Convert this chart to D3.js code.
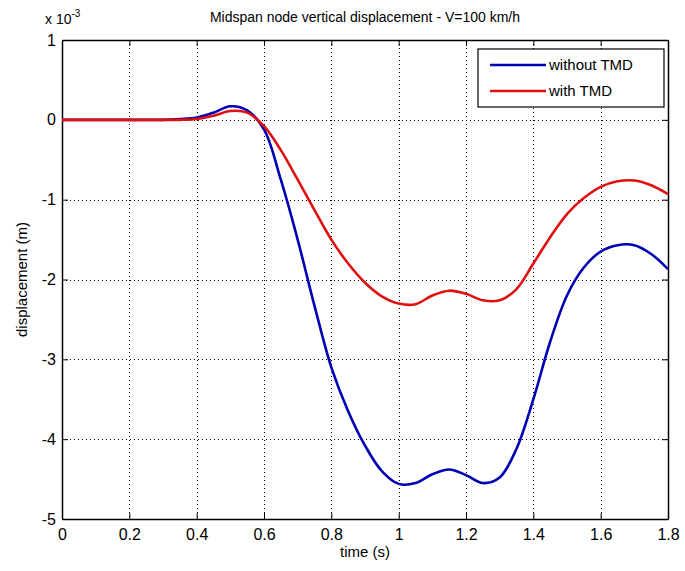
<!DOCTYPE html>
<html lang="en">
<head>
    <meta charset="UTF-8">
    <title>Midspan node vertical displacement</title>
    <script src="https://cdn.jsdelivr.net/npm/d3@7"></script>
    <style>
        body { margin: 0; background: #fff; }
        svg text { font-family: "Liberation Sans", Arial, sans-serif; fill: #000; }
    </style>
</head>
<body>
<div id="chartArea"></div>
<script>
    'use strict';

    // time (s)
    const time = [0, 0.05, 0.1, 0.15, 0.2, 0.25, 0.3, 0.35, 0.4, 0.45, 0.5, 0.55, 0.6, 0.65, 0.7,
        0.75, 0.8, 0.85, 0.9, 0.95, 1.0, 1.05, 1.1, 1.15, 1.2, 1.25, 1.3, 1.35, 1.4, 1.45, 1.5,
        1.55, 1.6, 1.65, 1.7, 1.75, 1.8];
    // displacement, x 10^-3 m
    const withoutTMD = [0, 0, 0, 0, 0, 0, 0, 0.01, 0.03, 0.09, 0.17, 0.12, -0.12, -0.75, -1.5,
        -2.33, -3.1, -3.65, -4.08, -4.4, -4.56, -4.55, -4.44, -4.38, -4.45, -4.55, -4.48, -4.12, -3.5,
        -2.78, -2.2, -1.85, -1.65, -1.57, -1.57, -1.68, -1.87];
    const withTMD = [0, 0, 0, 0, 0, 0, 0, 0, 0.01, 0.05, 0.11, 0.09, -0.08, -0.38, -0.75,
        -1.13, -1.5, -1.8, -2.04, -2.21, -2.3, -2.31, -2.2, -2.14, -2.18, -2.26, -2.26, -2.12, -1.8,
        -1.47, -1.18, -0.98, -0.84, -0.77, -0.76, -0.82, -0.93];
    const xTicks = [0, 0.2, 0.4, 0.6, 0.8, 1, 1.2, 1.4, 1.6, 1.8];
    const yTicks = [1, 0, -1, -2, -3, -4, -5];
    const seriesNames = ['without TMD', 'with TMD'];
    const seriesColors = ['#0000b4', '#e01010'];

    const width = 685, height = 571;
    const margin = { left: 62, right: 17, top: 40, bottom: 52 };
    const plotW = width - margin.left - margin.right;
    const plotH = height - margin.top - margin.bottom;

    const svg = d3.select('#chartArea').append('svg')
        .attr('width', width).attr('height', height);

    const x = d3.scaleLinear().domain([0, 1.8]).range([margin.left, margin.left + plotW]);
    const y = d3.scaleLinear().domain([-5, 1]).range([margin.top + plotH, margin.top]);

    // dotted grid
    const grid = svg.append('g').attr('stroke', '#000').attr('stroke-width', 1)
        .attr('stroke-dasharray', '1,3');
    grid.selectAll('.gx').data(xTicks.slice(1, -1)).enter().append('line')
        .attr('x1', d => Math.round(x(d)) + 0.5).attr('x2', d => Math.round(x(d)) + 0.5)
        .attr('y1', margin.top).attr('y2', margin.top + plotH);
    grid.selectAll('.gy').data(yTicks.slice(1, -1)).enter().append('line')
        .attr('y1', d => Math.round(y(d)) + 0.5).attr('y2', d => Math.round(y(d)) + 0.5)
        .attr('x1', margin.left).attr('x2', margin.left + plotW);

    // axes with inward ticks (matlab style), plain hyphen for negatives
    const fmt = d => String(d);
    const xAxis = d3.axisBottom(x).tickValues(xTicks).tickFormat(fmt).tickSizeInner(-6).tickSizeOuter(0).tickPadding(10);
    const yAxis = d3.axisLeft(y).tickValues(yTicks).tickFormat(fmt).tickSizeInner(-6).tickSizeOuter(0).tickPadding(6);

    const gx = svg.append('g').attr('transform', `translate(0,${margin.top + plotH})`).call(xAxis);
    const gy = svg.append('g').attr('transform', `translate(${margin.left},0)`).call(yAxis);
    svg.append('g').attr('transform', `translate(0,${margin.top})`)
        .call(d3.axisTop(x).tickValues(xTicks).tickFormat('').tickSizeInner(-6).tickSizeOuter(0));
    svg.append('g').attr('transform', `translate(${margin.left + plotW},0)`)
        .call(d3.axisRight(y).tickValues(yTicks).tickFormat('').tickSizeInner(-6).tickSizeOuter(0));
    svg.selectAll('.domain').attr('stroke', '#000').attr('stroke-width', 1.5);
    svg.selectAll('.tick line').attr('stroke', '#000');
    svg.selectAll('.tick text').style('font-size', '16px').style('font-family', '"Liberation Sans", Arial, sans-serif');
    gx.selectAll('.tick text').attr('dy', '0.71em');

    // curves
    const series = [withoutTMD, withTMD];
    const line = d3.line()
        .x((d, i) => x(time[i]))
        .y(d => y(d))
        .curve(d3.curveCatmullRom.alpha(0.5));
    svg.append('g').selectAll('path').data(series).enter().append('path')
        .attr('d', line)
        .attr('fill', 'none')
        .attr('stroke', (d, i) => seriesColors[i])
        .attr('stroke-width', 2.6)
        .attr('stroke-linejoin', 'round');

    // title & labels
    svg.append('text').attr('x', 365).attr('y', 22).attr('text-anchor', 'middle')
        .style('font-size', '14px').text('Midspan node vertical displacement - V=100 km/h');
    const mult = svg.append('text').attr('x', 45).attr('y', 24).style('font-size', '14px');
    mult.append('tspan').text('x 10');
    mult.append('tspan').attr('dy', -7).style('font-size', '10px').text('-3');
    svg.append('text').attr('x', x(0.9)).attr('y', 557).attr('text-anchor', 'middle')
        .style('font-size', '15px').text('time (s)');
    svg.append('text').attr('transform', `translate(27,${y(-2)}) rotate(-90)`)
        .attr('text-anchor', 'middle').style('font-size', '15px').text('displacement (m)');

    // legend
    const lg = svg.append('g').attr('transform', 'translate(478,49)');
    lg.append('rect').attr('width', 186).attr('height', 58)
        .attr('fill', '#fff').attr('stroke', '#000').attr('stroke-width', 1.2);
    seriesNames.forEach((name, i) => {
        const yy = 16 + i * 26;
        lg.append('line').attr('x1', 12).attr('x2', 68).attr('y1', yy).attr('y2', yy)
            .attr('stroke', seriesColors[i]).attr('stroke-width', 2.6);
        lg.append('text').attr('x', 71).attr('y', yy + 5).style('font-size', '15px').text(name);
    });
</script>
</body>
</html>
